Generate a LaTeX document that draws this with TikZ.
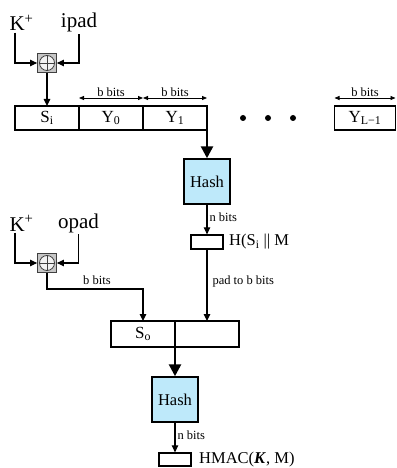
\documentclass[tikz,border=0pt]{standalone}
\usepackage{fontspec}
\setmainfont{Liberation Serif}
\usetikzlibrary{positioning,arrows.meta}
\definecolor{hashblue}{RGB}{190,233,250}

\begin{document}
\begin{tikzpicture}[x=1pt,y=-1pt,line width=1.1pt,
  every node/.style={inner sep=1pt},
  blk/.style={draw,line width=1.4pt,minimum width=64pt,minimum height=24pt,outer sep=0pt,font=\fontsize{17}{17}\selectfont},
  hashbox/.style={draw,line width=1.5pt,fill=hashblue,minimum width=46pt,minimum height=45pt,font=\fontsize{16.5}{17}\selectfont},
  outbox/.style={draw,line width=1.3pt,minimum width=32pt,minimum height=14pt},
  xorbox/.style={draw=black!75,line width=0.8pt,fill=gray!45,minimum size=19pt,
    path picture={\draw[line width=0.8pt,fill=gray!10] (path picture bounding box.center) circle (7.5pt);
      \draw[line width=0.8pt] ([xshift=-7.5pt]path picture bounding box.center) -- ([xshift=7.5pt]path picture bounding box.center)
        ([yshift=-7.5pt]path picture bounding box.center) -- ([yshift=7.5pt]path picture bounding box.center);}},
  big/.style={font=\fontsize{21}{21}\selectfont},
  lbl/.style={font=\fontsize{12.5}{13}\selectfont},
  txt/.style={font=\fontsize{16.5}{17}\selectfont},
  arr/.style={-{Triangle[length=7pt,width=6.5pt]}},
  thickarr/.style={line width=2.6pt,-{Triangle[length=12pt,width=12pt]}},
  bitsarr/.style={line width=0.8pt,{Triangle[length=5pt,width=4pt]}-{Triangle[length=5pt,width=4pt]}},
  dot/.style={circle,fill,inner sep=0pt,minimum size=6pt}]
\useasboundingbox (0,0) rectangle (396,468);

\node[big,anchor=base west] (kin1) at (8,31) {K\textsuperscript{+}};
\node[big,anchor=base] (ipad) at (79,28) {ipad};
\node[xorbox] (xor1) at (47,63) {};
\draw[arr] ([xshift=7pt]kin1.south west) |- (xor1.west);
\draw[arr] (ipad.south) |- (xor1.east);

\node[blk] (si) at (47,118) {S\textsubscript{i}};
\node[blk,right=0pt of si] (y0) {Y\textsubscript{0}};
\node[blk,right=0pt of y0] (y1) {Y\textsubscript{1}};
\node[dot] (d1) at (243,118) {};
\node[dot] (d2) at (268,118) {};
\node[dot] (d3) at (293,118) {};
\node[blk,minimum width=61pt] (yl) at (365,118) {Y\textsubscript{L−1}};
\draw[arr] (xor1.south) -- (si.north);

\draw[bitsarr] ([yshift=8pt]y0.north west) -- ([yshift=8pt]y0.north east) node[lbl,midway,above] {b bits};
\draw[bitsarr] ([yshift=8pt]y1.north west) -- ([yshift=8pt]y1.north east) node[lbl,midway,above] {b bits};
\draw[bitsarr] ([yshift=8pt]yl.north west) -- ([yshift=8pt]yl.north east) node[lbl,midway,above] {b bits};

\node[hashbox] (hash1) at (207,181.5) {Hash};
\draw[thickarr] (y1.south east) -- (hash1.north);
\node[outbox] (h1out) at (207,242) {};
\node[txt,right=4pt of h1out] (h1lbl) {H(S\textsubscript{i} || M};
\draw[arr] (hash1.south) -- (h1out.north) node[lbl,pos=0.42,right=1pt] {n bits};

\node[big,anchor=base west] (kin2) at (8,231) {K\textsuperscript{+}};
\node[big,anchor=base] (opad) at (78.5,228) {opad};
\node[xorbox] (xor2) at (47,263) {};
\draw[arr] ([xshift=7pt]kin2.south west) |- (xor2.west);
\draw[arr] (opad.south) |- (xor2.east);

\node[blk,minimum height=26pt] (so) at (143,334) {S\textsubscript{o}};
\node[blk,minimum height=26pt,right=0pt of so] (sb) {};
\draw[arr] (xor2.south) |- ([yshift=32pt]so.north) node[lbl,pos=0.76,above=3pt] {b bits} -- (so.north);
\draw[arr] (h1out.south) -- (sb.north) node[lbl,pos=0.44,right=4pt] {pad to b bits};

\node[hashbox] (hash2) at (175,399.5) {Hash};
\draw[thickarr] (so.south east) -- (hash2.north);
\node[outbox,minimum height=13pt] (out2) at (175,459.5) {};
\node[txt,right=6pt of out2] (hmac) {HMAC(\textbf{\textit{K}}, M)};
\draw[arr] (hash2.south) -- (out2.north) node[lbl,pos=0.42,right=1pt] {n bits};
\end{tikzpicture}
\end{document}
